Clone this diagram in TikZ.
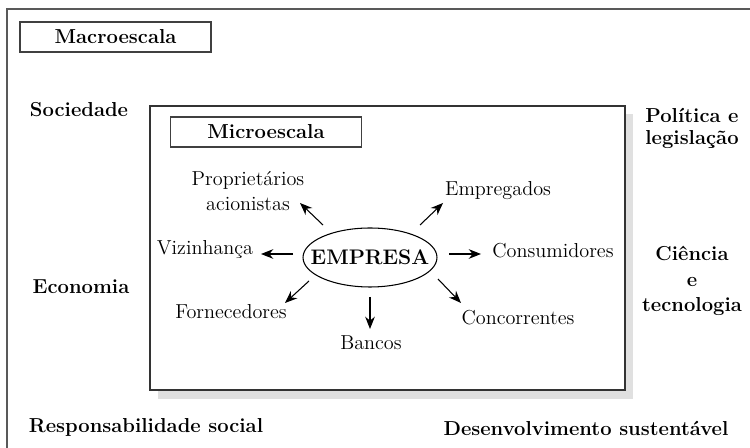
\documentclass[tikz,border=0pt]{standalone}
\usetikzlibrary{arrows.meta}
\begin{document}
\begin{tikzpicture}[x=0.02cm, y=-0.02cm, >={Stealth[length=7pt, width=5.5pt]},
  every node/.style={font=\fontsize{11.5}{14}\selectfont},
  escala/.style={draw=black!75, line width=0.6pt, minimum width=3.82cm,
    minimum height=0.6cm, inner sep=0pt, font=\fontsize{11.5}{14}\selectfont\bfseries},
  fator/.style={align=center, font=\fontsize{11.5}{13}\selectfont\bfseries},
  ator/.style={align=center},
  seta/.style={->, line width=0.6pt}]
\useasboundingbox (0,0) rectangle (750,448);
% Moldura externa (aberta a direita e embaixo)
\draw [black!65, line width=1.1pt] (750,9) -- (7,9) -- (7,448);
\node [escala] (macro) at (115.5,37) {Macroescala};
% Fatores da macroescala
\node [fator] (soc) at (79,110) {Sociedade};
\node [fator] (eco) at (81,287) {Economia};
\node [fator] (resp) at (146,427) {Responsabilidade social};
\node [fator] (desen) at (586,428) {Desenvolvimento sustent\'avel};
\node [fator, font=\fontsize{11.5}{12.5}\selectfont\bfseries] (pol) at (692,128) {Pol\'itica e\\legisla\c{c}\~ao};
\node [fator, font=\fontsize{11.5}{14.5}\selectfont\bfseries] (cien) at (692,281) {Ci\^encia\\e\\tecnologia};
% Caixa da microescala com sombra
\fill [black!12] (158,114) rectangle (633,399);
\draw [black!80, fill=white, line width=0.9pt] (150,106) rectangle (625,390);
\node [escala] (micro) at (266,132) {Microescala};
% Empresa e seus atores
\node [inner sep=0pt, font=\fontsize{12}{14}\selectfont\bfseries] (emp) at (370,257.5) {EMPRESA};
\draw [line width=0.6pt] (emp.center) ellipse [x radius=1.34cm, y radius=0.59cm];
\node [ator] (prop) at (248,191) {Propriet\'arios\\acionistas};
\node [ator] (empg) at (498,191) {Empregados};
\node [ator] (viz) at (205,250) {Vizinhan\c{c}a};
\node [ator] (cons) at (553,251) {Consumidores};
\node [ator] (forn) at (231,312) {Fornecedores};
\node [ator] (banc) at (371,343) {Bancos};
\node [ator] (conc) at (518,318) {Concorrentes};
% Setas da empresa para cada ator
\foreach \alvo/\dx/\dy/\ex/\ey in {
  prop/-47/-32.5/52/12,
  empg/50/-32.5/-55/12,
  viz/-77/-3.5/56/4,
  cons/79/-3.5/-72/3,
  forn/-61/23.5/54/-9,
  banc/0/39.5/-1/-14,
  conc/68/21.5/-57/-15} {
  \draw [seta] ([shift={(\dx,\dy)}]emp.center) -- ([shift={(\ex,\ey)}]\alvo.center);
}
\end{tikzpicture}
\end{document}
